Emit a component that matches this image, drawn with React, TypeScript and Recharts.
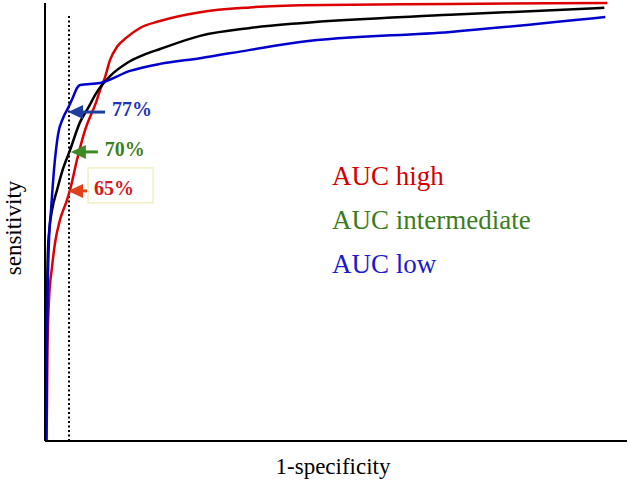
import React from 'react';
import { LineChart, Line, XAxis, YAxis, ReferenceLine, ReferenceDot, Label } from 'recharts';

// ROC curves (x = 1-specificity, y = sensitivity)
const highX = [0.0027, 0.0036, 0.0044, 0.0071, 0.0125, 0.0178, 0.0267, 0.0391, 0.0445, 0.0569, 0.0712, 0.0916, 0.0979, 0.1068, 0.1157, 0.1281, 0.1459, 0.169, 0.2046, 0.2758, 0.3648, 0.4537, 0.7206, 1.0];
const highY = [0, 0.094, 0.208, 0.322, 0.397, 0.452, 0.505, 0.55, 0.573, 0.642, 0.71, 0.776, 0.801, 0.831, 0.87, 0.9, 0.922, 0.943, 0.959, 0.979, 0.99, 0.995, 0.998, 1.0];

const midX = [0.0018, 0.0027, 0.0036, 0.0053, 0.008, 0.0125, 0.0214, 0.0302, 0.0445, 0.0623, 0.0765, 0.0925, 0.1157, 0.1459, 0.1744, 0.2046, 0.2758, 0.3648, 0.4537, 0.7206, 0.9947];
const midY = [0, 0.139, 0.322, 0.436, 0.486, 0.527, 0.573, 0.614, 0.664, 0.728, 0.76, 0.797, 0.833, 0.863, 0.881, 0.895, 0.925, 0.943, 0.954, 0.973, 0.989];

const lowX = [0.0018, 0.0027, 0.0044, 0.0071, 0.0107, 0.016, 0.0231, 0.032, 0.0409, 0.0498, 0.0569, 0.0623, 0.0979, 0.1512, 0.2046, 0.2758, 0.3648, 0.4537, 0.7206, 0.9964];
const lowY = [0, 0.139, 0.322, 0.459, 0.527, 0.619, 0.699, 0.737, 0.76, 0.785, 0.806, 0.813, 0.8174, 0.845, 0.861, 0.874, 0.893, 0.911, 0.934, 0.968];

const seriesNames = ['AUC high', 'AUC intermediate', 'AUC low'];
const lineColors = ['#dd0000', '#000000', '#0000cc'];
const legendColors = ['#d40000', '#3a7d1e', '#1a1acc'];

// cut-off marked by the dotted line
const cutoffX = 0.0427;
const cutoffTop = 0.973;

// arrow annotations at the cut-off
const markLabels = ['77%', '70%', '65%'];
const markX = [0.041, 0.046, 0.041];
const markY = [0.751, 0.66, 0.571];
const markShaft = [37, 27, 19];
const markTextColors = ['#2233bb', '#3d7f1f', '#d41a1a'];
const markArrowColors = ['#1f3f9f', '#3b8a23', '#e0401a'];

const zip = (xs: number[], ys: number[]) => xs.map((x, i) => ({ x, y: ys[i] }));
const curves = [zip(highX, highY), zip(midX, midY), zip(lowX, lowY)];

const SERIF = '"Liberation Serif", "Times New Roman", serif';

const Arrow = ({ cx, cy, i }: any) => {
  const len = markShaft[i];
  const col = markArrowColors[i];
  return (
    <g>
      {i === 2 && (
        <rect x={cx + 20} y={cy - 23} width={65} height={35} fill="none" stroke="#f3efc4" strokeWidth={1.5} />
      )}
      <line x1={cx + 10} y1={cy} x2={cx + len} y2={cy} stroke={col} strokeWidth={3} />
      <polygon points={`${cx},${cy} ${cx + 15},${cy - 7} ${cx + 15},${cy + 7}`} fill={col} />
      <text
        x={cx + len + 7}
        y={cy - 3}
        dominantBaseline="central"
        fontFamily={SERIF}
        fontWeight="bold"
        fontSize={20}
        fill={markTextColors[i]}
      >
        {markLabels[i]}
      </text>
    </g>
  );
};

export default function App() {
  return (
    <div style={{ position: 'absolute', left: 0, top: 0, width: 630, height: 489, background: '#fff' }}>
      <LineChart width={630} height={489} margin={{ top: 3, right: 3, bottom: 0, left: 0 }}>
        <XAxis
          type="number"
          dataKey="x"
          domain={[0, 1.035]}
          tick={false}
          tickLine={false}
          height={48}
          axisLine={{ stroke: '#000', strokeWidth: 2 }}
        >
          <Label
            content={({ viewBox }: any) => (
              <text x={333} y={viewBox.y + 33} textAnchor="middle" fontFamily={SERIF} fontSize={23} fill="#000">
                1-specificity
              </text>
            )}
          />
        </XAxis>
        <YAxis
          type="number"
          dataKey="y"
          domain={[0, 1]}
          tick={false}
          tickLine={false}
          width={45}
          axisLine={{ stroke: '#000', strokeWidth: 2 }}
        >
          <Label
            content={({ viewBox }: any) => {
              const cy = viewBox.y + viewBox.height / 2 + 6;
              return (
                <text
                  x={13}
                  y={cy}
                  transform={`rotate(-90, 13, ${cy})`}
                  textAnchor="middle"
                  dominantBaseline="central"
                  fontFamily={SERIF}
                  fontSize={23}
                  fill="#000"
                >
                  sensitivity
                </text>
              );
            }}
          />
        </YAxis>
        <ReferenceLine
          segment={[{ x: cutoffX, y: 0 }, { x: cutoffX, y: cutoffTop }]}
          stroke="#000"
          strokeWidth={2}
          strokeDasharray="2 2.5"
        />
        {curves.map((d, i) => (
          <Line
            key={seriesNames[i]}
            name={seriesNames[i]}
            data={d}
            dataKey="y"
            type="monotone"
            stroke={lineColors[i]}
            strokeWidth={2.5}
            dot={false}
            isAnimationActive={false}
          />
        ))}
        {markLabels.map((l, i) => (
          <ReferenceDot
            key={l}
            x={markX[i]}
            y={markY[i]}
            r={0}
            shape={(p: any) => <Arrow cx={p.cx} cy={p.cy} i={i} />}
          />
        ))}
      </LineChart>
      <div
        style={{
          position: 'absolute',
          left: 332,
          top: 154,
          fontFamily: SERIF,
          fontSize: 27,
          lineHeight: '44px',
        }}
      >
        {seriesNames.map((n, i) => (
          <div key={n} style={{ color: legendColors[i] }}>{n}</div>
        ))}
      </div>
    </div>
  );
}
